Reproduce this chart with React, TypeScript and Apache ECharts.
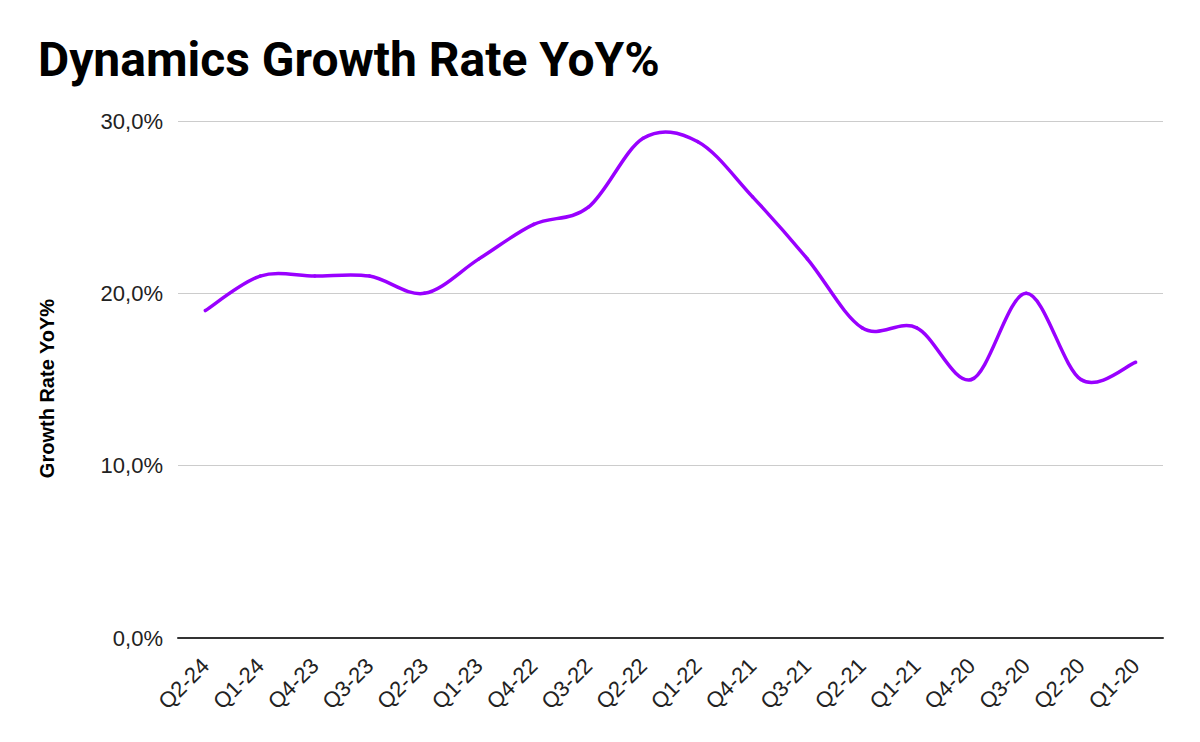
import React, { useEffect, useRef } from "react";
import * as echarts from "echarts";

const categories = [
  "Q2-24", "Q1-24", "Q4-23", "Q3-23", "Q2-23", "Q1-23", "Q4-22", "Q3-22", "Q2-22",
  "Q1-22", "Q4-21", "Q3-21", "Q2-21", "Q1-21", "Q4-20", "Q3-20", "Q2-20", "Q1-20",
];
const growthRate = [19, 21, 21, 21, 20, 22, 24, 25, 29, 28.8, 25.6, 22, 18, 18, 15, 20, 15, 16];
const yTicks = { min: 0, max: 30, interval: 10 };
const titleText = "Dynamics Growth Rate YoY%";
const yAxisName = "Growth Rate YoY%";

export default function App() {
  const ref = useRef<HTMLDivElement>(null);
  useEffect(() => {
    if (!ref.current) return;
    const chart = echarts.init(ref.current, undefined, { renderer: "svg" });
    const n = growthRate.length;
    const seriesData = growthRate.map((v, i) => [i, v]);
    chart.setOption({
      animation: false,
      backgroundColor: "#ffffff",
      title: {
        text: titleText,
        left: 33,
        top: 30,
        textStyle: { fontFamily: "Roboto", fontWeight: "bold", fontSize: 48, color: "#000000" },
      },
      grid: { left: 178, right: 37, top: 121, bottom: 104 },
      xAxis: {
        type: "category",
        data: categories,
        boundaryGap: true,
        axisLine: { lineStyle: { color: "#333333", width: 2 } },
        axisTick: { show: false },
        axisLabel: {
          interval: 0,
          rotate: 45,
          fontFamily: "Arial, 'Liberation Sans', sans-serif",
          fontSize: 22,
          color: "#222222",
          margin: 24,
        },
      },
      yAxis: {
        type: "value",
        min: yTicks.min,
        max: yTicks.max,
        interval: yTicks.interval,
        name: yAxisName,
        nameLocation: "middle",
        nameGap: 121,
        nameTextStyle: {
          fontFamily: "Arial, 'Liberation Sans', sans-serif",
          fontWeight: "bold",
          fontSize: 20,
          color: "#000000",
          padding: [0, 18, 0, 0],
        },
        axisLine: { show: false },
        axisTick: { show: false },
        splitLine: { lineStyle: { color: "#cccccc", width: 1 } },
        axisLabel: {
          fontFamily: "Arial, 'Liberation Sans', sans-serif",
          fontSize: 22,
          color: "#222222",
          margin: 15,
          formatter: (v: number) => v.toFixed(1).replace(".", ",") + "%",
        },
      },
      series: [
        {
          type: "custom",
          data: seriesData,
          encode: { x: 0, y: 1 },
          renderItem: (params: any, api: any) => {
            const i = params.dataIndex;
            if (i >= n - 1) return { type: "group", children: [] };
            const i0 = Math.max(0, i - 1);
            const i3 = Math.min(n - 1, i + 2);
            const p0 = api.coord([i0, growthRate[i0]]);
            const p1 = api.coord([i, growthRate[i]]);
            const p2 = api.coord([i + 1, growthRate[i + 1]]);
            const p3 = api.coord([i3, growthRate[i3]]);
            const t = 6;
            return {
              type: "bezierCurve",
              shape: {
                x1: p1[0],
                y1: p1[1],
                x2: p2[0],
                y2: p2[1],
                cpx1: p1[0] + (p2[0] - p0[0]) / t,
                cpy1: p1[1] + (p2[1] - p0[1]) / t,
                cpx2: p2[0] - (p3[0] - p1[0]) / t,
                cpy2: p2[1] - (p3[1] - p1[1]) / t,
              },
              style: { stroke: "#9900ff", lineWidth: 3.5, fill: null, lineCap: "round" },
            };
          },
        },
      ],
    });
    return () => chart.dispose();
  }, []);
  return <div ref={ref} style={{ position: "fixed", left: 0, top: 0, width: 1200, height: 742 }} />;
}
